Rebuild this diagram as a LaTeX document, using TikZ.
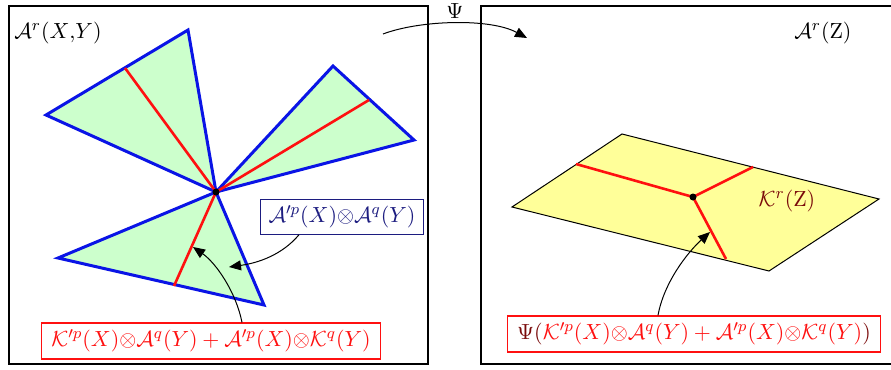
\documentclass[tikz,border=0pt]{standalone}
\usepackage{amsmath,amssymb}
\usetikzlibrary{arrows.meta,positioning}
\definecolor{trblue}{HTML}{0A14E6}
\definecolor{trnavy}{HTML}{1C1C80}
\definecolor{trred}{HTML}{FF1010}
\definecolor{trmaroon}{HTML}{7A0A0A}
\definecolor{trgreen}{HTML}{CCFFCC}
\definecolor{tryellow}{HTML}{FFFF99}
\newcommand{\tens}{{\otimes}}
\newcommand{\labfont}{\fontsize{11pt}{13pt}\selectfont}
\tikzset{
  frame/.style={draw=black,line width=0.8pt},
  cone/.style={draw=trblue,fill=trgreen,line width=1.5pt,line join=miter},
  sheet/.style={draw=black,fill=tryellow,line width=0.5pt},
  cut/.style={draw=trred,line width=1.3pt},
  lbl/.style={font=\labfont,inner sep=1pt},
  bbox/.style={draw=trnavy,text=trnavy,fill=white,line width=0.6pt,
               font=\labfont,minimum height=17pt,inner sep=3pt,inner xsep=4pt},
  rbox/.style={draw=trred,text=trred,fill=white,line width=0.6pt,
               font=\labfont,minimum height=18pt,inner sep=3pt,inner xsep=5pt},
  ar/.style={-{Triangle[length=6pt,width=5pt]},line width=0.5pt},
}

\begin{document}
\begin{tikzpicture}[x=0.5pt,y=-0.5pt]
  \useasboundingbox (0,0) rectangle (891,370);
  % the two spaces
  \draw[frame] (9,6) rectangle (428,364);
  \draw[frame] (481,6) rectangle (900,364);
  \node[lbl] (axy) at (58,33) {$\mathcal{A}^r(X{,}Y)$};
  \node[lbl] (az) at (823,33) {$\mathcal{A}^r(\mathrm{Z})$};
  % cones in the left space
  \coordinate (c) at (216,192);
  \filldraw[cone] (c) -- (46,115) -- (188,30) -- cycle;
  \filldraw[cone] (c) -- (333,66) -- (414,140) -- cycle;
  \filldraw[cone] (c) -- (58,258) -- (264,305) -- cycle;
  \draw[cut] (c) -- (125,68);
  \draw[cut] (c) -- (369,100);
  \draw[cut] (c) -- (174,286);
  \fill (c) circle (3.5);
  % the sheet in the right space
  \coordinate (z) at (693,197);
  \filldraw[sheet] (512,207) -- (622,134) -- (879,199) -- (769,271) -- cycle;
  \draw[cut] (z) -- (576,164);
  \draw[cut] (z) -- (753,167);
  \draw[cut] (z) -- (726,259);
  \fill (z) circle (3.5);
  \node[lbl,text=trmaroon] (kz) at (787,201) {$\mathcal{K}^r(\mathrm{Z})$};
  % labels
  \node[bbox] (ab) at (342,217) {$\mathcal{A}'^{p}(X)\tens\mathcal{A}^{q}(Y)$};
  \node[rbox] (kl) at (211,341)
    {$\mathcal{K}'^{p}(X)\tens\mathcal{A}^{q}(Y)+\mathcal{A}'^{p}(X)\tens\mathcal{K}^{q}(Y)$};
  \node[rbox] (kr) at (694,334)
    {$\color{trmaroon}\Psi(\color{trred}\mathcal{K}'^{p}(X)\tens\mathcal{A}^{q}(Y)+\mathcal{A}'^{p}(X)\tens\mathcal{K}^{q}(Y)\color{trmaroon})$};
  % arrows
  \coordinate (psis) at (383,34);
  \coordinate (psie) at (527,38);
  \coordinate (tipa) at (229,267);
  \coordinate (tipk) at (193,247);
  \coordinate (tipz) at (710,232);
  \draw[ar] (psis) .. controls (420,20) and (490,18) .. node[lbl,above=1pt,pos=0.5]{$\Psi$} (psie);
  \draw[ar] ([xshift=-21.5pt]ab.south) .. controls (282,255) and (258,263) .. (tipa);
  \draw[ar] ([xshift=15.5pt]kl.north) .. controls (236,292) and (216,263) .. (tipk);
  \draw[ar] ([xshift=-18pt]kr.north) .. controls (664,282) and (688,252) .. (tipz);
\end{tikzpicture}
\end{document}
